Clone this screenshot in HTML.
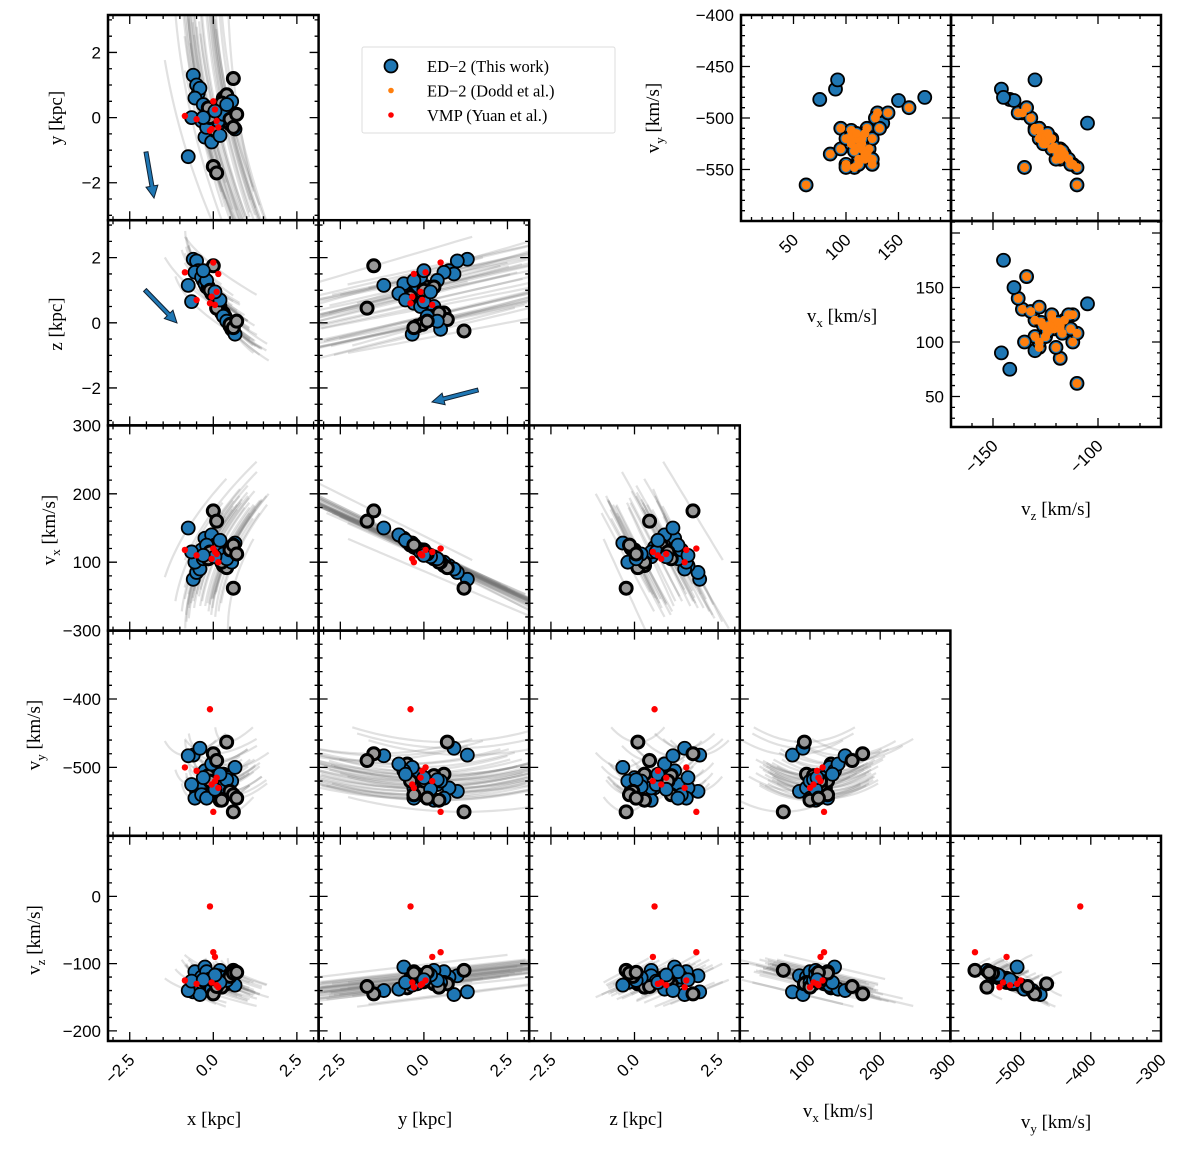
<!DOCTYPE html>
<html><head><meta charset="utf-8"><style>
html,body{margin:0;padding:0;background:#fff}
svg{display:block}
</style></head><body>
<svg id="fig" width="1200" height="1149" viewBox="0 0 1200 1149" xmlns="http://www.w3.org/2000/svg"></svg>
<script>
// ---- data: ED-2 stars (this work) ----
const starX  = [-0.6,-0.5,-0.45,-0.4,-0.55,-0.3,-0.2,-0.1,0.0,0.1,0.2,0.3,0.35,0.4,0.45,0.5,0.55,0.6,0.65,-0.35,-0.25,-0.15,-0.05,0.05,0.15,0.25,-0.75,-0.65,0.0,0.1,-0.2,0.3,0.4,0.5,0.2,-0.1,0.05,0.6,0.7,-0.3];
const starY  = [1.3,1.0,0.75,0.9,0.6,0.4,0.1,-0.2,-0.5,-0.3,0.3,0.6,0.2,0.7,0.0,-0.2,0.5,1.2,-0.35,-0.1,-0.6,0.3,-0.75,-0.4,-0.1,0.45,-1.2,0.0,-1.5,-1.7,-0.3,0.1,0.4,-0.05,-0.55,0.0,0.2,-0.3,0.1,0.0];
const starZ  = [1.95,1.9,1.6,1.5,1.55,1.3,1.1,1.0,0.9,0.6,0.5,0.3,0.2,0.1,0.0,-0.1,-0.2,-0.25,-0.35,1.4,1.2,1.1,0.9,0.8,0.5,0.3,1.15,0.65,1.75,0.45,1.3,0.2,0.05,-0.05,0.7,1.0,0.95,-0.15,0.05,1.6];
const starVx = [75,85,95,90,100,105,112,120,130,122,108,95,110,92,118,120,100,62,128,118,135,105,140,125,115,100,150,115,175,160,125,112,105,118,132,115,108,125,112,110];
const starVy = [-482,-535,-530,-472,-545,-525,-540,-510,-495,-530,-548,-510,-520,-463,-515,-535,-520,-565,-500,-540,-505,-512,-495,-520,-530,-548,-483,-525,-480,-490,-545,-528,-518,-535,-510,-520,-532,-540,-545,-515];
const starVz = [-142,-118,-120,-146,-112,-125,-118,-130,-136,-122,-110,-128,-124,-130,-127,-116,-128,-110,-132,-120,-105,-130,-138,-122,-118,-135,-140,-126,-145,-134,-112,-121,-125,-119,-128,-123,-117,-114,-113,-124];
const starGray = [0,0,0,0,0,0,1,0,1,0,0,1,0,1,0,1,0,1,0,0,0,1,0,1,0,1,0,0,1,1,0,0,0,1,0,1,0,1,1,0];
const starDodd = [0,1,1,0,1,1,1,1,1,1,1,1,1,0,1,1,1,1,1,1,0,1,1,1,1,1,0,1,0,1,1,1,1,1,1,1,1,1,1,1];
// ---- data: VMP stars (Yuan et al.) ----
const vmpX  = [-0.85,-0.5,-0.05,0.0,0.05,0.1,-0.1,0.15];
const vmpY  = [0.05,-0.05,-0.35,0.5,0.25,-0.1,-0.4,-0.3];
const vmpZ  = [1.55,0.7,0.8,1.85,0.55,0.95,0.6,1.5];
const vmpVx = [118,110,105,120,115,112,-50,100];
const vmpVy = [-500,-505,-525,-565,-520,-515,-415,-530];
const vmpVz = [-125,-130,-128,-83,-90,-132,-15,-135];

const NS='http://www.w3.org/2000/svg';
const svg=document.getElementById('fig');
function mk(tag,attrs,parent){const e=document.createElementNS(NS,tag);for(const k in attrs)e.setAttribute(k,attrs[k]);(parent||svg).appendChild(e);return e;}

const vars=['x','y','z','vx','vy','vz'];
const ranges={x:[-3.15,3.15],y:[-3.15,3.15],z:[-3.15,3.15],vx:[0,300],vy:[-600,-300],vz:[-215,90]};
const majV={x:2.5,y:2.5,z:2.5,vx:100,vy:100,vz:100};
const majH={x:2,y:2,z:2,vx:100,vy:100,vz:100};
const minS={x:0.5,y:0.5,z:0.5,vx:20,vy:20,vz:20};
const starCols={x:starX,y:starY,z:starZ,vx:starVx,vy:starVy,vz:starVz};
const vmpCols={x:vmpX,y:vmpY,z:vmpZ,vx:vmpVx,vy:vmpVy,vz:vmpVz};
const L0=108,T0=15,PW=210.6,PH=205.2;
let clipId=0;

function fmt(v,step){ if(Math.abs(step-Math.round(step))>1e-9){return (v<-1e-9?'\u2212':'')+Math.abs(v).toFixed(1);} return (v<0?'\u2212':'')+Math.abs(Math.round(v)); }

function axes(g,x0,y0,w,h,xr,yr,xmaj,ymaj,xmin,ymin,xlab,ylab,skipMax){
  const sx=v=>x0+(v-xr[0])/(xr[1]-xr[0])*w, sy=v=>y0+h-(v-yr[0])/(yr[1]-yr[0])*h;
  const ticks=(r,s)=>{const a=[];for(let v=Math.ceil(r[0]/s-1e-9)*s;v<=r[1]+1e-9;v+=s)a.push(+v.toFixed(6));return a;};
  let d='';
  ticks(xr,xmin).forEach(v=>{const X=sx(v);d+=`M${X},${y0+h}v-4M${X},${y0}v4`;});
  ticks(xr,xmaj).forEach(v=>{const X=sx(v);d+=`M${X},${y0+h}v-9M${X},${y0}v9`;});
  ticks(yr,ymin).forEach(v=>{const Y=sy(v);d+=`M${x0},${Y}h4M${x0+w},${Y}h-4`;});
  ticks(yr,ymaj).forEach(v=>{const Y=sy(v);d+=`M${x0},${Y}h9M${x0+w},${Y}h-9`;});
  const tk=mk('path',{d:d,stroke:'#000','stroke-width':1.3,fill:'none'},g);
  
  
  if(ylab){ticks(yr,ymaj).forEach(v=>{ if(Math.abs(v-yr[0])<1e-6)return; if(skipMax&&sy(v)<y0+20)return; const t=mk('text',{x:x0-7,y:sy(v)+6,'text-anchor':'end','font-size':17,'font-family':'Liberation Sans, sans-serif'},g);t.textContent=fmt(v,ymaj);
    
    });}
  if(xlab){ticks(xr,xmaj).forEach(v=>{ if(Math.abs(v-xr[0])<1e-6)return; if(skipMax&&sx(v)>x0+w-20)return; const X=sx(v),Y=y0+h+14;const t=mk('text',{x:X+6,y:Y+6,'text-anchor':'end','font-size':17,'font-family':'Liberation Sans, sans-serif',transform:`rotate(-45 ${X+6} ${Y+6})`},g);t.textContent=fmt(v,xmaj);
    
    });}
  return {sx,sy};
}

function traj(i,t){
  const k=0.001023;
  return {x:starX[i]+starVx[i]*k*t+0.5*12*k*t*t, y:starY[i]+starVy[i]*k*t, z:starZ[i]+starVz[i]*k*t,
          vx:starVx[i]+12*t, vy:starVy[i]+0.6*t*t, vz:starVz[i]-3*t};
}

// corner panels
for(let i=1;i<6;i++){for(let j=0;j<i;j++){
  const vx=vars[j],vy=vars[i];
  const x0=L0+j*PW,y0=T0+(i-1)*PH;
  const g=mk('g',{});
  
  
  const cid='c'+(clipId++);
  const cp=mk('clipPath',{id:cid},g);mk('rect',{x:x0,y:y0,width:PW,height:PH},cp);
  const xr=ranges[vx],yr=ranges[vy];
  const sx=v=>x0+(v-xr[0])/(xr[1]-xr[0])*PW, sy=v=>y0+PH-(v-yr[0])/(yr[1]-yr[0])*PH;
  const lg=mk('g',{'clip-path':`url(#${cid})`},g);
  for(let s=0;s<starX.length;s++){
    let d='';for(let t=-6;t<=6.001;t+=0.5){const p=traj(s,t);d+=(t===-6?'M':'L')+sx(p[vx]).toFixed(1)+','+sy(p[vy]).toFixed(1);}
    const pl=mk('path',{d:d,stroke:'#777','stroke-opacity':0.22,'stroke-width':2.2,fill:'none'},lg);
    
    
  }
  for(let s=0;s<starX.length;s++){
    const c=mk('circle',{cx:sx(starCols[vx][s]),cy:sy(starCols[vy][s]),r:starGray[s]?6:6.5,fill:starGray[s]?'#999':'#1f77b4',stroke:'#000','stroke-width':starGray[s]?3:1.8},lg);
    
    
  }
  for(let s=0;s<vmpX.length;s++){
    const c=mk('circle',{cx:sx(vmpCols[vx][s]),cy:sy(vmpCols[vy][s]),r:3.2,fill:'#ff0000'},lg);
    
    
  }
  axes(g,x0,y0,PW,PH,xr,yr,majV[vx],majH[vy],minS[vx],minS[vy],i===5,j===0,false);
  const fr=mk('rect',{x:x0,y:y0,width:PW,height:PH,fill:'none',stroke:'#000','stroke-width':2.5},g);
  
  
}}

// inset panels
const insets=[
 {name:'inset-vx-vy',x0:741,y0:15,xa:starVx,ya:starVy,xr:[0,200],yr:[-600,-400],xl:true,yl:true},
 {name:'inset-vz-vy',x0:951,y0:15,xa:starVz,ya:starVy,xr:[-170,-70],yr:[-600,-400],xl:false,yl:false},
 {name:'inset-vz-vx',x0:951,y0:221,xa:starVz,ya:starVx,xr:[-170,-70],yr:[22,211],xl:true,yl:true}
];
insets.forEach(p=>{
  const g=mk('g',{});
  
  
  const W=210,H=206;
  const sx=v=>p.x0+(v-p.xr[0])/(p.xr[1]-p.xr[0])*W, sy=v=>p.y0+H-(v-p.yr[0])/(p.yr[1]-p.yr[0])*H;
  for(let s=0;s<starX.length;s++){
    const c=mk('circle',{cx:sx(p.xa[s]),cy:sy(p.ya[s]),r:6.5,fill:'#1f77b4',stroke:'#000','stroke-width':1.8},g);
    
    
  }
  for(let s=0;s<starX.length;s++){ if(!starDodd[s])continue;
    const c=mk('circle',{cx:sx(p.xa[s]),cy:sy(p.ya[s]),r:4.5,fill:'#ff7f0e'},g);
    
    
  }
  axes(g,p.x0,p.y0,W,H,p.xr,p.yr,50,50,10,10,p.xl,p.yl,true);
  const fr=mk('rect',{x:p.x0,y:p.y0,width:W,height:H,fill:'none',stroke:'#000','stroke-width':2.5},g);
  
  
});
// top label of inset vx-vy y axis (-400) shown in reference
{const t=mk('text',{x:734,y:21,'text-anchor':'end','font-size':17,'font-family':'Liberation Sans, sans-serif'});t.textContent='\u2212400';
 
 }

// arrows
function arrow(x1,y1,x2,y2,name){
  const dx=x2-x1,dy=y2-y1,L=Math.hypot(dx,dy),ux=dx/L,uy=dy/L,nx=-uy,ny=ux;
  const hl=12,hw=6,sw=2;
  const bx=x2-ux*hl,by=y2-uy*hl;
  const pts=[[x1+nx*sw,y1+ny*sw],[bx+nx*sw,by+ny*sw],[bx+nx*hw,by+ny*hw],[x2,y2],[bx-nx*hw,by-ny*hw],[bx-nx*sw,by-ny*sw],[x1-nx*sw,y1-ny*sw]];
  const a=mk('polygon',{points:pts.map(p=>p.join(',')).join(' '),fill:'#1f77b4',stroke:'#123','stroke-width':1});
  
  
}
arrow(146,152,154,198,'motion-arrow-xy');
arrow(145,290,177,323,'motion-arrow-xz');
arrow(478,390,432,402,'motion-arrow-yz');

// axis labels
function label(x,y,html,rot,name){
  const t=mk('text',{x:x,y:y,'text-anchor':'middle','font-size':19,'font-family':'Liberation Serif, serif'});
  if(rot)t.setAttribute('transform',`rotate(-90 ${x} ${y})`);
  t.innerHTML=html;
  
  
}
const sub=s=>`v<tspan font-size="13" dy="5">${s}</tspan><tspan dy="-5"> [km/s]</tspan>`;
label(62,118,'y [kpc]',true,'y-axis-title-y');
label(62,324,'z [kpc]',true,'y-axis-title-z');
label(55,530,sub('x'),true,'y-axis-title-vx');
label(40,735,sub('y'),true,'y-axis-title-vy');
label(40,940,sub('z'),true,'y-axis-title-vz');
label(214,1125,'x [kpc]',false,'x-axis-title-x');
label(425,1125,'y [kpc]',false,'x-axis-title-y');
label(636,1125,'z [kpc]',false,'x-axis-title-z');
label(838,1117,sub('x'),false,'x-axis-title-vx');
label(1056,1128,sub('y'),false,'x-axis-title-vy');
label(659,118,sub('y'),true,'inset-y-axis-title-vy');
label(842,322,sub('x'),false,'inset-x-axis-title-vx');
label(1056,515,sub('z'),false,'inset-x-axis-title-vz');

// legend
const lg=mk('g',{});


const lb=mk('rect',{x:362,y:47,width:253,height:86,rx:2,fill:'#fff',stroke:'#ddd','stroke-width':1},lg);


const entries=[['ED\u22122 (This work)','#1f77b4',6.5,true],['ED\u22122 (Dodd et al.)','#ff7f0e',2.8,false],['VMP (Yuan et al.)','#ff0000',2.8,false]];
entries.forEach((e,k)=>{
  const y=66+k*24.5;
  const c=mk('circle',{cx:391,cy:y,r:e[2],fill:e[1],stroke:e[3]?'#000':'none','stroke-width':1.8},lg);
  
  
  const t=mk('text',{x:427,y:y+6,'font-size':16.5,'font-family':'Liberation Serif, serif'},lg);
  t.textContent=e[0];
  
  
});
</script>
</body></html>
